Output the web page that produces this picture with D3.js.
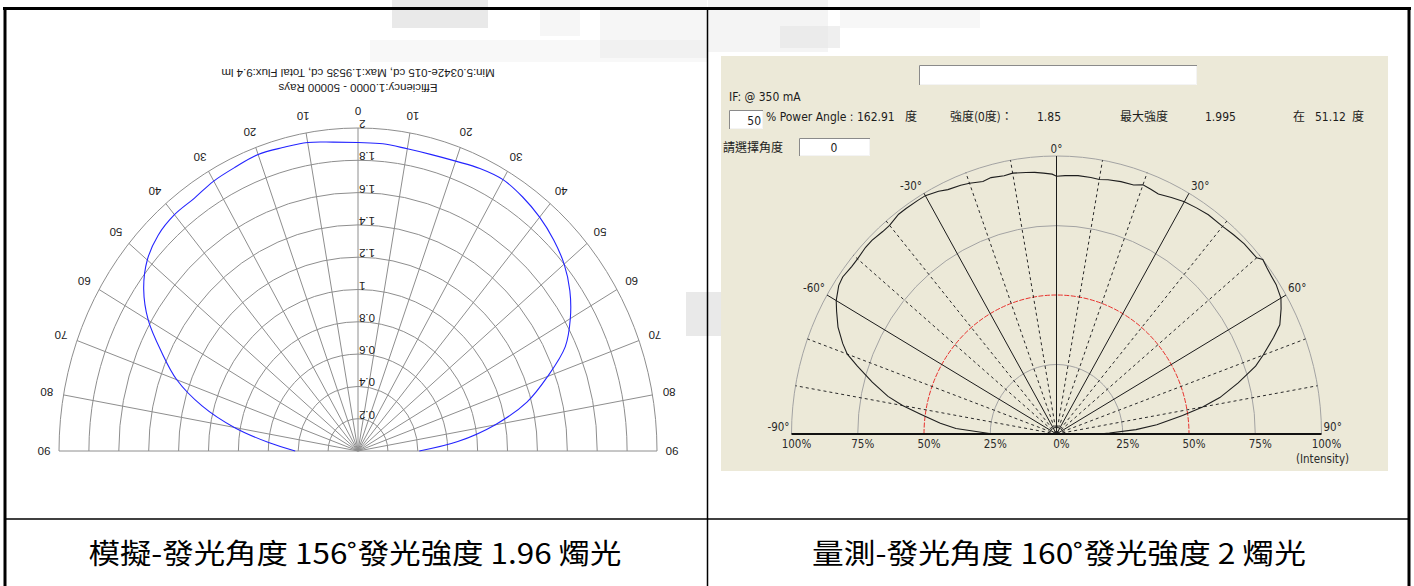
<!DOCTYPE html>
<html>
<head>
<meta charset="utf-8">
<script src="https://cdn.jsdelivr.net/npm/d3@7"></script>
<style>
  html, body { margin: 0; padding: 0; background: #fff; }
  svg { display: block; }
</style>
</head>
<body>
<svg id="fig" width="1414" height="586"></svg>
<script>
// ---------- Simulated light distribution (degrees, candela) ----------
const simAngles = [-90,-85,-80,-75,-70,-65,-60,-55,-50,-45,-40,-35,-30,-25,-20,-15,-10,-5,0,
                   5,10,15,20,25,30,35,40,45,50,55,60,65,70,75,80,85,90];
const simCandela = [0.42,0.60,0.84,1.08,1.29,1.45,1.62,1.75,1.84,1.89,1.91,1.91,1.93,1.94,1.9535,1.945,1.94,1.92,1.91,
                    1.91,1.90,1.90,1.91,1.93,1.94,1.92,1.89,1.85,1.80,1.73,1.64,1.53,1.35,1.17,0.93,0.67,0.41];
const simRingValues = [0.2,0.4,0.6,0.8,1.0,1.2,1.4,1.6,1.8,2.0];
const simRingLabels = ["0.2","0.4","0.6","0.8","1","1.2","1.4","1.6","1.8","2"];
const simSpokeAngles = [-90,-80,-70,-60,-50,-40,-30,-20,-10,0,10,20,30,40,50,60,70,80,90];
const simSpokeLabels = ["90","80","70","60","50","40","30","20","10","0","10","20","30","40","50","60","70","80","90"];
const simTitleLines = ["Min:5.0342e-015 cd, Max:1.9535 cd, Total Flux:9.4 lm",
                       "Efficiency:1.0000 - 50000 Rays"];

// ---------- Measured light distribution (degrees, candela) ----------
const measAngles = [-90,-87,-85,-82,-80,-78,-75,-72,-70,-68,-65,-62,-60,-57,-55,-52,-50,-47,-45,-42,
                    -40,-37,-35,-32,-30,-27,-25,-22,-20,-17,-15,-12,-10,-7,-5,-3,-1,0,2,5,
                    8,10,12,15,18,20,22,24,27,30,33,36,40,43,46,50,51.12,53,55,57,
                    60,62,65,67,70,72,75,78,80,82,85,87,89,90];
const measCandela = [0.479,0.758,0.878,1.037,1.177,1.297,1.436,1.576,1.676,1.736,1.815,1.875,1.915,1.955,1.965,1.955,1.955,1.965,1.965,1.955,
                     1.955,1.975,1.975,1.975,1.975,1.955,1.935,1.925,1.915,1.895,1.905,1.895,1.901,1.891,1.885,1.875,1.865,1.85,1.855,1.861,
                     1.859,1.855,1.865,1.875,1.879,1.903,1.895,1.885,1.905,1.925,1.935,1.945,1.945,1.955,1.965,1.967,1.995,1.983,1.975,1.971,
                     1.951,1.915,1.855,1.776,1.656,1.576,1.416,1.257,1.117,0.958,0.758,0.599,0.399,0.319];
const measPeakCd = 1.995;
const measPeakAngle = 51.12;
const measAxisCd = 1.85;
const measPowerAngle = 162.91;
const measHalfPercent = 50;
const measCurrent = "IF: @ 350 mA";
const measRingValues = [25, 50, 75, 100];
const measSpokeAngles = [-80,-70,-60,-50,-40,-30,-20,-10,0,10,20,30,40,50,60,70,80];
const measSolidSpokes = [-60,-30,0,30,60];
const measAngleLabels = [-90,-60,-30,0,30,60,90];
const measTickValues = [-100,-75,-50,-25,0,25,50,75,100];

const captions = ["模擬-發光角度 156˚發光強度 1.96 燭光", "量測-發光角度 160˚發光強度 2 燭光"];

// ---------- helpers ----------
const svg = d3.select("#fig");
const rad = d => d * Math.PI / 180;
function polar(c, rx, ry, deg) {
  return [c.cx + rx * Math.sin(rad(deg)), c.cy - ry * Math.cos(rad(deg))];
}
function halfEllipse(c, rx, ry) {
  return `M${c.cx - rx},${c.cy} A${rx},${ry} 0 0 1 ${c.cx + rx},${c.cy}`;
}

// ---------- faint background marks ----------
const bg = svg.append("g").attr("fill", "#e4e4e4");
bg.append("rect").attr("x", 392).attr("y", 0).attr("width", 96).attr("height", 28).attr("opacity", 0.8);
bg.append("rect").attr("x", 540).attr("y", 0).attr("width", 40).attr("height", 36).attr("opacity", 0.35);
bg.append("rect").attr("x", 600).attr("y", 0).attr("width", 107).attr("height", 58).attr("opacity", 0.35);
bg.append("rect").attr("x", 370).attr("y", 40).attr("width", 337).attr("height", 22).attr("opacity", 0.25);
bg.append("rect").attr("x", 708).attr("y", 0).attr("width", 120).attr("height", 52).attr("opacity", 0.4);
bg.append("rect").attr("x", 780).attr("y", 26).attr("width", 60).attr("height", 22).attr("opacity", 0.6);
bg.append("rect").attr("x", 840).attr("y", 0).attr("width", 140).attr("height", 28).attr("opacity", 0.3);
bg.append("rect").attr("x", 686).attr("y", 292).attr("width", 35).attr("height", 44).attr("opacity", 0.8);

// ---------- table frame ----------
const frame = svg.append("g").attr("stroke", "#000");
frame.append("line").attr("x1", 3).attr("x2", 1411).attr("y1", 8.5).attr("y2", 8.5).attr("stroke-width", 3);
frame.append("line").attr("x1", 5).attr("x2", 5).attr("y1", 7).attr("y2", 586).attr("stroke-width", 3);
frame.append("line").attr("x1", 1409).attr("x2", 1409).attr("y1", 7).attr("y2", 586).attr("stroke-width", 3);
frame.append("line").attr("x1", 707.5).attr("x2", 707.5).attr("y1", 8).attr("y2", 586).attr("stroke-width", 1.5);
frame.append("line").attr("x1", 4).attr("x2", 1410).attr("y1", 519).attr("y2", 519).attr("stroke-width", 1.5);

// ---------- left: simulated polar plot (drawn inverted) ----------
const L = { cx: 358, cy: 451 };
const simRX = d3.scaleLinear().domain([0, 2]).range([0, 299]);
const simRY = d3.scaleLinear().domain([0, 2]).range([0, 323]);
const gL = svg.append("g");
const gridL = gL.append("g").attr("fill", "none").attr("stroke", "#8e8e8e").attr("stroke-width", 1);

gridL.selectAll("path.ring").data(simRingValues).join("path")
  .attr("class", "ring")
  .attr("d", v => halfEllipse(L, simRX(v), simRY(v)));

gridL.selectAll("line.spoke").data(simSpokeAngles).join("line")
  .attr("class", "spoke")
  .attr("x1", L.cx).attr("y1", L.cy)
  .attr("x2", a => polar(L, simRX(2), simRY(2), a)[0])
  .attr("y2", a => polar(L, simRX(2), simRY(2), a)[1]);

gL.append("path")
  .datum(simAngles.map((a, i) => [a, simCandela[i]]))
  .attr("fill", "none").attr("stroke", "#2424ff").attr("stroke-width", 1.1)
  .attr("d", d3.line()
    .x(d => polar(L, simRX(d[1]), simRY(d[1]), d[0])[0])
    .y(d => polar(L, simRX(d[1]), simRY(d[1]), d[0])[1])
    .curve(d3.curveCatmullRom));

const txtL = gL.append("g")
  .attr("font-family", "'Liberation Sans', Arial, sans-serif")
  .attr("font-size", 11.5).attr("fill", "#1a1a1a");

// angle labels, placed just outside the outer ring
txtL.selectAll("text.ang").data(simSpokeAngles).join("text")
  .attr("class", "ang")
  .each(function (a, i) {
    const p = polar(L, simRX(2), simRY(2), a);
    const off = Math.abs(a) === 90 ? 15 : 17;
    const x = p[0] + off * Math.sin(rad(a));
    const y = p[1] - off * Math.cos(rad(a));
    d3.select(this).attr("x", x).attr("y", y)
      .attr("text-anchor", "middle").attr("dominant-baseline", "central")
      .attr("transform", `rotate(180,${x},${y})`)
      .text(simSpokeLabels[i]);
  });

// radial value labels along the 0° spoke
txtL.selectAll("text.rv").data(simRingValues).join("text")
  .attr("class", "rv")
  .each(function (v, i) {
    const x = L.cx + 1;
    const y = L.cy - simRY(v) - 4;
    d3.select(this).attr("x", x).attr("y", y)
      .attr("text-anchor", "end").attr("dominant-baseline", "central")
      .attr("transform", `rotate(180,${x},${y})`)
      .text(simRingLabels[i]);
  });

// header lines
txtL.selectAll("text.hdr").data(simTitleLines).join("text")
  .attr("class", "hdr")
  .each(function (s, i) {
    const x = 358, y = i === 0 ? 73 : 88;
    d3.select(this).attr("x", x).attr("y", y)
      .attr("text-anchor", "middle").attr("dominant-baseline", "central")
      .attr("transform", `rotate(180,${x},${y})`)
      .text(s);
  });

// ---------- right: measured polar plot ----------
const gR = svg.append("g");
gR.append("rect").attr("x", 721).attr("y", 56).attr("width", 667).attr("height", 415).attr("fill", "#ECE9D8");

// sunken input boxes
function inputBox(x, y, w, h) {
  gR.append("rect").attr("x", x).attr("y", y).attr("width", w).attr("height", h).attr("fill", "#fff");
  gR.append("path").attr("d", `M${x + 0.5},${y + h} V${y + 0.5} H${x + w}`).attr("fill", "none").attr("stroke", "#8a8a8a");
  gR.append("path").attr("d", `M${x + 1},${y + h - 0.5} H${x + w - 0.5} V${y + 1}`).attr("fill", "none").attr("stroke", "#f4f4f4");
}
inputBox(919, 65, 278, 20);
inputBox(729, 110, 34, 19);
inputBox(799, 138, 71, 18);

const uiFont = "'Liberation Sans Narrow', 'DejaVu Sans Condensed', 'Liberation Sans', Arial, sans-serif";
const cjkFont = "'Noto Sans CJK TC', 'Noto Sans CJK SC', sans-serif";
const ui = gR.append("g").attr("font-family", uiFont).attr("font-size", 12).attr("fill", "#1c1c1c");
function uiText(x, y, s, anchor, font) {
  return ui.append("text").attr("x", x).attr("y", y).attr("text-anchor", anchor || "start")
    .attr("font-family", font || uiFont).text(s);
}
uiText(729, 101, measCurrent);
uiText(761, 125, String(measHalfPercent), "end");
uiText(766, 121, `% Power Angle : ${measPowerAngle}`);
uiText(905, 121, "度", "start", cjkFont);
uiText(950, 121, "強度(0度)：", "start", cjkFont);
uiText(1037, 121, measAxisCd.toFixed(2));
uiText(1120, 121, "最大強度", "start", cjkFont);
uiText(1205, 121, measPeakCd.toFixed(3));
uiText(1293, 121, "在", "start", cjkFont);
uiText(1315, 121, measPeakAngle.toFixed(2));
uiText(1352, 121, "度", "start", cjkFont);
uiText(723, 152, "請選擇角度", "start", cjkFont);
uiText(834, 152, "0", "middle");

const R = { cx: 1056.5, cy: 434 };
const measRX = d3.scaleLinear().domain([0, 100]).range([0, 265]);
const measRY = d3.scaleLinear().domain([0, 100]).range([0, 278]);
const pct = cd => cd / measPeakCd * 100;
const xTick = d3.scaleLinear().domain([-100, 100]).range([R.cx - 265, R.cx + 265]);

const gridR = gR.append("g").attr("fill", "none");
gridR.selectAll("path.ring").data(measRingValues).join("path")
  .attr("class", "ring")
  .attr("stroke", v => v === 50 ? "#e8302c" : "#a3a3a3")
  .attr("stroke-dasharray", v => v === 50 ? "5,1.5" : null)
  .attr("stroke-width", 1)
  .attr("d", v => halfEllipse(R, measRX(v), measRY(v)));

gridR.selectAll("line.spoke").data(measSpokeAngles).join("line")
  .attr("class", "spoke")
  .attr("x1", R.cx).attr("y1", R.cy)
  .attr("x2", a => polar(R, measRX(100), measRY(100), a)[0])
  .attr("y2", a => polar(R, measRX(100), measRY(100), a)[1])
  .attr("stroke", a => measSolidSpokes.includes(a) ? "#1a1a1a" : "#2a2a2a")
  .attr("stroke-width", 1)
  .attr("stroke-dasharray", a => measSolidSpokes.includes(a) ? null : "3,3");

gR.append("path")
  .datum(measAngles.map((a, i) => [a, pct(measCandela[i])]))
  .attr("fill", "none").attr("stroke", "#1e1e1e").attr("stroke-width", 1.1)
  .attr("d", d3.line()
    .x(d => polar(R, measRX(d[1]), measRY(d[1]), d[0])[0])
    .y(d => polar(R, measRX(d[1]), measRY(d[1]), d[0])[1]));

gR.append("line")
  .attr("x1", xTick(-100)).attr("x2", xTick(100))
  .attr("y1", R.cy).attr("y2", R.cy)
  .attr("stroke", "#111").attr("stroke-width", 2);

const lab = gR.append("g").attr("font-family", uiFont).attr("font-size", 11.5).attr("fill", "#2a2a2a");
lab.selectAll("text.ang").data(measAngleLabels).join("text")
  .attr("class", "ang")
  .each(function (a) {
    const p = polar(R, measRX(100), measRY(100), a);
    const t = d3.select(this).text(`${a}°`);
    if (a === 0) {
      t.attr("x", p[0]).attr("y", p[1] - 3).attr("text-anchor", "middle");
    } else if (a > 0) {
      t.attr("x", p[0] + 2).attr("y", p[1] - 3).attr("text-anchor", "start");
    } else {
      t.attr("x", p[0] - 2).attr("y", p[1] - 3).attr("text-anchor", "end");
    }
  });

lab.selectAll("text.tick").data(measTickValues).join("text")
  .attr("class", "tick")
  .attr("x", v => xTick(v) + 5).attr("y", 448)
  .attr("text-anchor", "middle")
  .text(v => `${Math.abs(v)}%`);
lab.append("text").attr("x", xTick(100) + 1).attr("y", 463).attr("text-anchor", "middle").text("(Intensity)");

// ---------- captions ----------
const cap = svg.append("g").attr("font-family", cjkFont).attr("font-size", 28).attr("fill", "#000");
cap.append("text").attr("x", 355).attr("y", 564).attr("text-anchor", "middle")
  .attr("textLength", 533).attr("lengthAdjust", "spacingAndGlyphs").text(captions[0]);
cap.append("text").attr("x", 1059).attr("y", 564).attr("text-anchor", "middle")
  .attr("textLength", 494).attr("lengthAdjust", "spacingAndGlyphs").text(captions[1]);
</script>
</body>
</html>
